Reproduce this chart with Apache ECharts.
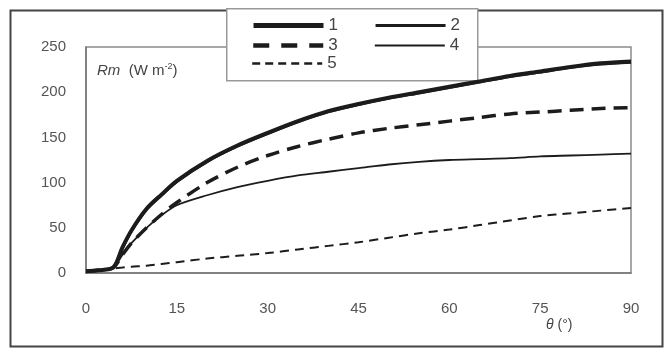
<!DOCTYPE html>
<html><head><meta charset="utf-8">
<script src="https://cdn.jsdelivr.net/npm/echarts@6/dist/echarts.min.js"></script>
<style>html,body{margin:0;padding:0;background:#fff}#c{width:666px;height:351px}</style>
</head><body><div id="c"></div>
<script>
const theta = [0, 2, 4.5, 6, 7.5, 10, 12.5, 15, 20, 25, 30, 35, 40, 45, 50, 55, 60, 65, 70, 75, 80, 85, 90];
const s1 = [2, 3, 6, 28, 47, 71, 87, 102, 124, 141, 155, 168, 179, 187, 194, 200, 206, 212, 218, 223, 228, 232, 234];
const s2 = [2, 3, 6, 27, 46, 70, 86, 101, 123, 140, 154, 167, 178, 186, 193, 199, 205, 211, 217, 222, 227, 231, 233];
const s3 = [2, 3, 6, 20, 33, 50, 65, 78, 100, 117, 130, 140, 148, 155, 160, 164, 168, 172, 176, 178, 180, 182, 183];
const s4 = [2, 3, 6, 20, 33, 50, 64, 75, 86, 95, 102, 108, 112, 116, 120, 123, 125, 126, 127, 129, 130, 131, 132];
const s5 = [2, 3, 5, 6, 7, 8, 10, 12, 16, 19, 22, 26, 30, 34, 39, 44, 48, 53, 58, 63, 66, 69, 72];
const xTicks = [0, 15, 30, 45, 60, 75, 90];
const yTicks = [0, 50, 100, 150, 200, 250];
const names = ['1', '2', '3', '4', '5'];

const pairs = a => theta.map((t, i) => [t, a[i]]);
const col = '#1c1c1c';
const widths = [4, 2.6, 3.5, 1.8, 2];
const types = ['solid', 'solid', [14, 8], 'solid', [9, 6]];
const legW = [5, 3.2, 4.5, 2.2, 2.4];
const legT = ['solid', 'solid', [16, 12], 'solid', [8, 5]];
function ser(i, data) {
  return { name: names[i], type: 'line', data: pairs(data), symbol: 'none', smooth: 0.3,
    lineStyle: { color: col, width: widths[i], type: types[i] }, itemStyle: { color: col } };
}
const legItem = i => ({ name: names[i], lineStyle: { width: legW[i], type: legT[i], color: col } });
const chart = echarts.init(document.getElementById('c'));
const legBase = { itemWidth: 70, itemHeight: 12, itemGap: 36, itemStyle: { opacity: 0 },
  textStyle: { fontFamily: 'Liberation Sans', fontSize: 17, color: '#444' } };
chart.setOption({
  animation: false,
  backgroundColor: '#fff',
  grid: { left: 86, right: 35, top: 47, bottom: 78, show: true, borderColor: '#8a8a8a', borderWidth: 1.5 },
  xAxis: { type: 'value', min: xTicks[0], max: xTicks[xTicks.length - 1], interval: 15,
    axisLine: { show: true, lineStyle: { color: '#777', width: 1.5 } }, axisTick: { show: false },
    splitLine: { show: false },
    axisLabel: { margin: 28, fontFamily: 'Liberation Sans', fontSize: 15, color: '#555' } },
  yAxis: { type: 'value', min: yTicks[0], max: yTicks[yTicks.length - 1], interval: 50,
    axisLine: { show: true, lineStyle: { color: '#777', width: 1.5 } }, axisTick: { show: false },
    splitLine: { show: false },
    axisLabel: { margin: 20, fontFamily: 'Liberation Sans', fontSize: 15, color: '#555' } },
  legend: [
    Object.assign({}, legBase, { data: [legItem(0), legItem(1)], left: 246, top: 12 }),
    Object.assign({}, legBase, { data: [legItem(2), legItem(3)], left: 246, top: 32 }),
    Object.assign({}, legBase, { data: [legItem(4)], left: 246, top: 50 })
  ],
  series: [ser(0, s1), ser(1, s2), ser(2, s3), ser(3, s4), ser(4, s5)],
  graphic: [
    { type: 'rect', left: 8, top: 8, z: -1, silent: true,
      shape: { width: 652, height: 336 }, style: { fill: 'none', stroke: '#444', lineWidth: 2 } },
    { type: 'rect', left: 226, top: 8, z: 0, silent: true,
      shape: { width: 251, height: 72 }, style: { fill: '#fff', stroke: '#999', lineWidth: 1.5 } },
    { type: 'text', left: 97, top: 62, silent: true,
      style: { text: '{i|Rm}  (W m{s|-2})', fill: '#444', font: '15px "Liberation Sans"',
        rich: { i: { fontStyle: 'italic', fontSize: 15, fontFamily: 'Liberation Sans', fill: '#444' },
                s: { fontSize: 9, fontFamily: 'Liberation Sans', fill: '#444', verticalAlign: 'top', padding: [0, 0, 8, 0] } } } },
    { type: 'text', left: 546, top: 318, silent: true,
      style: { text: '{i|θ} (°)', fill: '#444', font: '14px "Liberation Sans"',
        rich: { i: { fontStyle: 'italic', fontSize: 14, fontFamily: 'Liberation Sans', fill: '#444' } } } }
  ]
});
</script></body></html>
